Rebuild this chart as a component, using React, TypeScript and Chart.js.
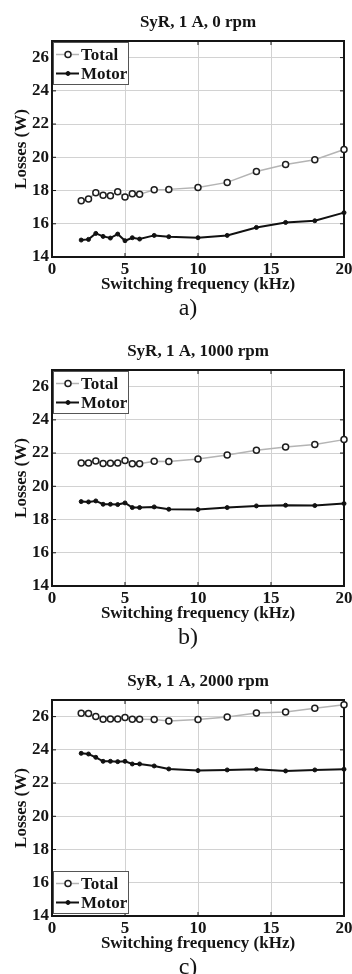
import React, { useEffect, useRef } from "react";
import { Chart, registerables } from "chart.js";

Chart.register(...registerables);

// ---------- data ----------
const FREQ_KHZ = [2, 2.5, 3, 3.5, 4, 4.5, 5, 5.5, 6, 7, 8, 10, 12, 14, 16, 18, 20];

const TOTAL_0RPM = [17.39, 17.49, 17.87, 17.71, 17.68, 17.93, 17.61, 17.8, 17.77, 18.05, 18.07, 18.19, 18.49, 19.15, 19.57, 19.85, 20.47];
const MOTOR_0RPM = [15.02, 15.06, 15.42, 15.24, 15.14, 15.38, 14.98, 15.16, 15.08, 15.3, 15.22, 15.16, 15.3, 15.78, 16.08, 16.18, 16.67];

const TOTAL_1000RPM = [21.41, 21.41, 21.53, 21.37, 21.39, 21.41, 21.55, 21.36, 21.36, 21.51, 21.49, 21.65, 21.89, 22.17, 22.37, 22.51, 22.81];
const MOTOR_1000RPM = [19.08, 19.06, 19.12, 18.92, 18.92, 18.9, 19.0, 18.72, 18.72, 18.76, 18.62, 18.6, 18.72, 18.82, 18.86, 18.84, 18.96];

const TOTAL_2000RPM = [26.2, 26.18, 26.0, 25.84, 25.86, 25.86, 25.94, 25.84, 25.84, 25.82, 25.74, 25.82, 25.98, 26.22, 26.28, 26.5, 26.72];
const MOTOR_2000RPM = [23.79, 23.75, 23.55, 23.31, 23.31, 23.29, 23.31, 23.15, 23.15, 23.03, 22.85, 22.75, 22.79, 22.83, 22.73, 22.79, 22.83];

const X_TICKS = [0, 5, 10, 15, 20];
const Y_TICKS = [14, 16, 18, 20, 22, 24, 26];
const X_MIN = 0;
const X_MAX = 20;
const Y_MIN = 14;
const Y_MAX = 27;

const SERIES_LABELS = ["Total", "Motor"];
const PANEL_TITLES = ["SyR, 1 A, 0 rpm", "SyR, 1 A, 1000 rpm", "SyR, 1 A, 2000 rpm"];
const PANEL_LABELS = ["a)", "b)", "c)"];
const X_TITLE = "Switching frequency (kHz)";
const Y_TITLE = "Losses (W)";

const PANELS = [
  { total: TOTAL_0RPM, motor: MOTOR_0RPM, legend: "top" },
  { total: TOTAL_1000RPM, motor: MOTOR_1000RPM, legend: "top" },
  { total: TOTAL_2000RPM, motor: MOTOR_2000RPM, legend: "bottom" },
];

// ---------- styles ----------
const SERIF = '"Liberation Serif", "Times New Roman", Times, serif';
const INK = "#151515";
const GRID = "#d2d2d2";
const TOTAL_LINE = "#b4b4b4";
const PANEL_TOP = [0, 329, 659];
const CANVAS_W = 352;
const CANVAS_H = 330;

const boldFont = { family: SERIF, size: 17, weight: "bold" as const, lineHeight: 1.2 };

const framePlugin = {
  id: "matlabFrame",
  beforeDatasetsDraw(chart: any) {
    const { ctx, chartArea } = chart;
    const { left, right, top, bottom } = chartArea;
    const xs = chart.scales.x;
    const ys = chart.scales.y;
    ctx.save();
    ctx.strokeStyle = INK;
    ctx.lineWidth = 1;
    ctx.beginPath();
    for (const t of xs.ticks) {
      const px = xs.getPixelForValue(t.value);
      ctx.moveTo(px, bottom);
      ctx.lineTo(px, bottom - 4);
      ctx.moveTo(px, top);
      ctx.lineTo(px, top + 4);
    }
    for (const t of ys.ticks) {
      const py = ys.getPixelForValue(t.value);
      ctx.moveTo(left, py);
      ctx.lineTo(left + 4, py);
      ctx.moveTo(right, py);
      ctx.lineTo(right - 4, py);
    }
    ctx.stroke();
    ctx.lineWidth = 2;
    ctx.strokeRect(left, top, right - left, bottom - top);
    ctx.restore();
  },
};

const legendPlugin = {
  id: "insideLegend",
  afterDatasetsDraw(chart: any, _args: any, opts: any) {
    const { ctx, chartArea } = chart;
    const boxW = 76;
    const boxH = 43;
    const bx = chartArea.left + 1;
    const by = opts.position === "bottom" ? chartArea.bottom - boxH - 2 : chartArea.top + 1;
    ctx.save();
    ctx.fillStyle = "#ffffff";
    ctx.fillRect(bx, by, boxW, boxH);
    ctx.strokeStyle = "#555";
    ctx.lineWidth = 1;
    ctx.strokeRect(bx + 0.5, by + 0.5, boxW - 1, boxH - 1);
    const rows = [12.5, 31.5];
    chart.data.datasets.forEach((ds: any, i: number) => {
      const cy = by + rows[i];
      ctx.strokeStyle = ds.borderColor;
      ctx.lineWidth = ds.borderWidth;
      ctx.beginPath();
      ctx.moveTo(bx + 3, cy);
      ctx.lineTo(bx + 26, cy);
      ctx.stroke();
      ctx.beginPath();
      ctx.arc(bx + 15, cy, ds.pointRadius, 0, Math.PI * 2);
      ctx.fillStyle = ds.pointBackgroundColor;
      ctx.fill();
      ctx.strokeStyle = ds.pointBorderColor;
      ctx.lineWidth = ds.pointBorderWidth;
      ctx.stroke();
      ctx.fillStyle = INK;
      ctx.font = `bold 17px ${SERIF}`;
      ctx.textAlign = "left";
      ctx.textBaseline = "middle";
      ctx.fillText(ds.label, bx + 28, cy + 1);
    });
    ctx.restore();
  },
};

const panelLabelPlugin = {
  id: "panelLabel",
  afterDraw(chart: any, _args: any, opts: any) {
    const { ctx, chartArea } = chart;
    ctx.save();
    ctx.fillStyle = INK;
    ctx.font = `24px ${SERIF}`;
    ctx.textAlign = "center";
    ctx.textBaseline = "middle";
    ctx.fillText(opts.text, chartArea.left + 136, chartArea.bottom + 52);
    ctx.restore();
  },
};

function Panel({ index }: { index: number }) {
  const ref = useRef<HTMLCanvasElement>(null);
  useEffect(() => {
    const p = PANELS[index];
    const chart = new Chart(ref.current as HTMLCanvasElement, {
      type: "line",
      data: {
        datasets: [
          {
            label: SERIES_LABELS[0],
            data: FREQ_KHZ.map((f, i) => ({ x: f, y: p.total[i] })),
            borderColor: TOTAL_LINE,
            borderWidth: 1.5,
            pointRadius: 3,
            pointBorderWidth: 1.5,
            pointBorderColor: "#1e1e1e",
            pointBackgroundColor: "#ffffff",
            tension: 0,
            clip: false as any,
          },
          {
            label: SERIES_LABELS[1],
            data: FREQ_KHZ.map((f, i) => ({ x: f, y: p.motor[i] })),
            borderColor: "#111111",
            borderWidth: 2,
            pointRadius: 2,
            pointBorderWidth: 1,
            pointBorderColor: "#111111",
            pointBackgroundColor: "#111111",
            tension: 0,
            clip: false as any,
          },
        ],
      },
      options: {
        responsive: false,
        animation: false,
        events: [],
        layout: { padding: { left: 0, right: 8, top: 0, bottom: 34.8 } },
        plugins: {
          legend: { display: false },
          tooltip: { enabled: false },
          title: {
            display: true,
            text: PANEL_TITLES[index],
            fullSize: false,
            font: boldFont,
            color: INK,
            padding: { top: 12.8, bottom: 7.8 },
          },
          insideLegend: { position: p.legend },
          panelLabel: { text: PANEL_LABELS[index] },
        } as any,
        scales: {
          x: {
            type: "linear",
            min: X_MIN,
            max: X_MAX,
            afterBuildTicks: (s: any) => {
              s.ticks = X_TICKS.map((v) => ({ value: v }));
            },
            afterFit: (s: any) => {
              s.paddingLeft = 0;
              s.paddingRight = 0;
              s.height = 38.2;
            },
            grid: { color: GRID, lineWidth: 1, drawTicks: false },
            border: { display: false },
            ticks: { padding: 2, font: boldFont, color: INK, maxRotation: 0, autoSkip: false },
            title: { display: true, text: X_TITLE, font: boldFont, color: INK, padding: 0 },
          },
          y: {
            type: "linear",
            min: Y_MIN,
            max: Y_MAX,
            afterBuildTicks: (s: any) => {
              s.ticks = Y_TICKS.map((v) => ({ value: v }));
            },
            afterFit: (s: any) => {
              s.paddingTop = 0;
              s.paddingBottom = 0;
              s.width = 52;
            },
            grid: { color: GRID, lineWidth: 1, drawTicks: false },
            border: { display: false },
            ticks: { padding: 3, font: boldFont, color: INK, autoSkip: false },
            title: { display: true, text: Y_TITLE, font: boldFont, color: INK, padding: { top: 11, bottom: 0 } },
          },
        },
      },
      plugins: [framePlugin, legendPlugin, panelLabelPlugin],
    } as any);
    return () => chart.destroy();
  }, [index]);
  return (
    <canvas
      ref={ref}
      width={CANVAS_W}
      height={CANVAS_H}
      style={{ position: "absolute", left: 0, top: PANEL_TOP[index], width: CANVAS_W, height: CANVAS_H, display: "block" }}
    />
  );
}

export default function App() {
  return (
    <div
      style={{
        position: "absolute",
        left: 0,
        top: 0,
        width: 352,
        height: 974,
        overflow: "hidden",
        background: "#ffffff",
      }}
    >
      {PANELS.map((_, i) => (
        <Panel key={i} index={i} />
      ))}
    </div>
  );
}
